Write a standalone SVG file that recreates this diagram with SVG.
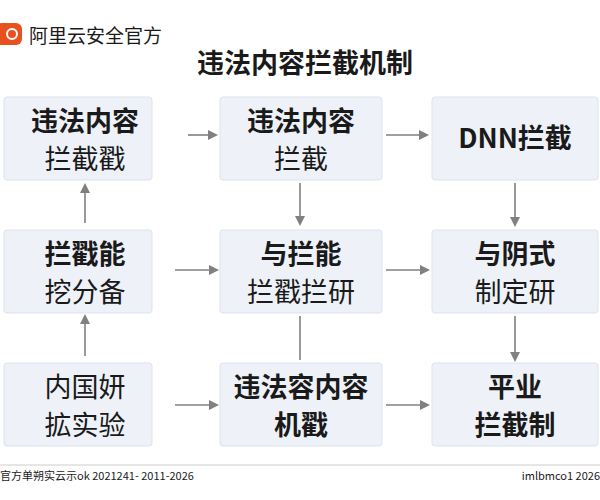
<svg xmlns="http://www.w3.org/2000/svg" width="600" height="500" viewBox="0 0 600 500">
<style>
text{font-family:"Noto Sans CJK SC","Noto Sans",sans-serif;fill:#1a1a1a}
.box{fill:#eef2f8;stroke:#dde3ec;stroke-width:1}
.t{font-size:27px;text-anchor:middle}
.b{font-weight:bold}
.c{stroke:#808080;stroke-width:1.6;fill:none}
</style>
<defs><marker id="a" markerWidth="10" markerHeight="10" refX="8" refY="5" orient="auto" markerUnits="userSpaceOnUse"><path d="M0,0L10,5L0,10z" fill="#808080"/></marker></defs>
<rect width="600" height="500" fill="#fff"/>
<g id="logo"><rect x="-4" y="23" width="26" height="22" rx="6" fill="#e8501e"/><circle cx="12" cy="34" r="5" fill="none" stroke="#fff" stroke-width="2"/><text x="29" y="43" font-size="19">阿里云安全官方</text></g>
<text x="305" y="73" class="t b" font-size="34">违法内容拦截机制</text>
<g id="n1"><rect class="box" x="4" y="97" width="148" height="83" rx="3"/><text x="85" y="131" class="t b">违法内容</text><text x="85" y="169" class="t">拦截戳</text></g>
<g id="n2"><rect class="box" x="220" y="97" width="162" height="83" rx="3"/><text x="301" y="131" class="t b">违法内容</text><text x="301" y="169" class="t">拦截</text></g>
<g id="n3"><rect class="box" x="432" y="97" width="166" height="83" rx="3"/><text x="515" y="148" class="t b">DNN拦截</text></g>
<g id="n4"><rect class="box" x="4" y="230" width="148" height="83" rx="3"/><text x="85" y="264" class="t b">拦戳能</text><text x="85" y="302" class="t">挖分备</text></g>
<g id="n5"><rect class="box" x="220" y="230" width="162" height="83" rx="3"/><text x="301" y="264" class="t b">与拦能</text><text x="301" y="302" class="t">拦戳拦研</text></g>
<g id="n6"><rect class="box" x="432" y="230" width="166" height="83" rx="3"/><text x="515" y="264" class="t b">与阴式</text><text x="515" y="302" class="t">制定研</text></g>
<g id="n7"><rect class="box" x="4" y="363" width="148" height="83" rx="3"/><text x="85" y="397" class="t">内国妍</text><text x="85" y="435" class="t">拡实验</text></g>
<g id="n8"><rect class="box" x="220" y="363" width="162" height="83" rx="3"/><text x="301" y="397" class="t b">违法容内容</text><text x="301" y="435" class="t b">机戳</text></g>
<g id="n9"><rect class="box" x="432" y="363" width="166" height="83" rx="3"/><text x="515" y="397" class="t b">平业</text><text x="515" y="435" class="t b">拦截制</text></g>
<g id="connectors">
<path class="c" d="M188,135H216" marker-end="url(#a)"/>
<path class="c" d="M386,135H427" marker-end="url(#a)"/>
<path class="c" d="M85,223V185" marker-end="url(#a)"/>
<path class="c" d="M85,356V316" marker-end="url(#a)"/>
<path class="c" d="M300,183V224" marker-end="url(#a)"/>
<path class="c" d="M300,316V360"/>
<path class="c" d="M175,270H217" marker-end="url(#a)"/>
<path class="c" d="M386,270H428" marker-end="url(#a)"/>
<path class="c" d="M515,183V225" marker-end="url(#a)"/>
<path class="c" d="M515,316V360" marker-end="url(#a)"/>
<path class="c" d="M175,405H217" marker-end="url(#a)"/>
<path class="c" d="M386,405H428" marker-end="url(#a)"/>
</g>
<line x1="0" y1="465" x2="600" y2="465" stroke="#ccc"/>
<text x="0" y="480" font-size="11" fill="#333">官方单朔实云示ok 2021241- 2011-2026</text>
<text x="600" y="480" font-size="11" text-anchor="end" fill="#333">imlbmco1 2026</text>
</svg>
